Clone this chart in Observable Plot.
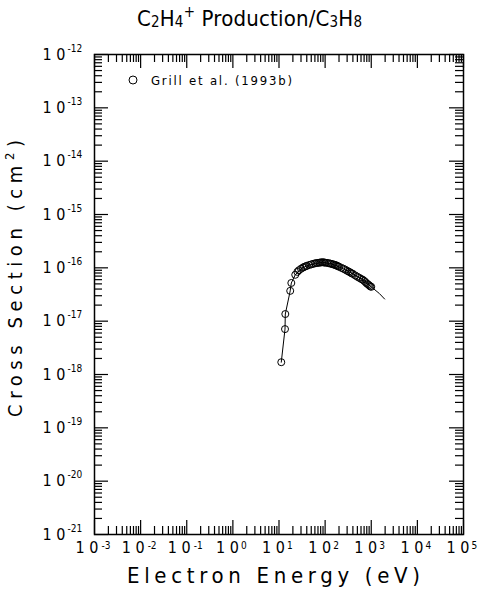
<!DOCTYPE html>
<html><head><meta charset="utf-8">
<script src="https://cdn.jsdelivr.net/npm/d3@7"></script>
<script src="https://cdn.jsdelivr.net/npm/@observablehq/plot@0.6"></script>
<style>
body{margin:0;background:#fff;}
#chart{position:relative;width:482px;height:603px;}
#chart svg.overlay{position:absolute;left:0;top:0;}
svg text{font-family:"DejaVu Sans Condensed","DejaVu Sans",sans-serif;}
</style></head><body><div id="chart"></div>
<script>
// Grill et al. (1993b) measured points (eV, cm^2)
const energy = [11.2, 13.5, 13.7, 17.5, 18.5, 22.5, 25, 27, 30, 33, 35, 38, 40, 45, 50, 55, 60, 65, 70, 75, 80, 85, 90, 95, 100,
  110, 120, 130, 140, 150, 160, 170, 180, 190, 200, 225, 250, 275, 300, 325, 350, 375, 400, 450, 500, 550, 600, 650, 700, 750,
  800, 850, 900, 950, 1000];
const sigma = [1.7e-18, 7.1e-18, 1.36e-17, 3.7e-17, 5.2e-17, 7.4e-17, 8.4e-17, 9.0e-17, 9.6e-17, 1.01e-16, 1.04e-16, 1.07e-16,
  1.09e-16, 1.13e-16, 1.16e-16, 1.19e-16, 1.21e-16, 1.23e-16, 1.24e-16, 1.25e-16, 1.26e-16, 1.27e-16, 1.27e-16, 1.26e-16,
  1.25e-16, 1.24e-16, 1.22e-16, 1.20e-16, 1.18e-16, 1.16e-16, 1.14e-16, 1.12e-16, 1.10e-16, 1.07e-16, 1.05e-16, 1.00e-16,
  9.6e-17, 9.2e-17, 8.8e-17, 8.5e-17, 8.2e-17, 7.9e-17, 7.7e-17, 7.2e-17, 6.8e-17, 6.5e-17, 6.2e-17, 6.0e-17, 5.7e-17,
  5.4e-17, 5.1e-17, 4.9e-17, 4.7e-17, 4.5e-17, 4.4e-17];
// Recommended (fitted) curve
const fitEnergy = [11.2, 13.5, 13.7, 17.5, 18.5, 22.5, 30, 40, 60, 90, 150, 250, 400, 650, 1000, 1500, 1950];
const fitSigma = [1.7e-18, 7.1e-18, 1.36e-17, 3.7e-17, 5.2e-17, 7.4e-17, 9.6e-17, 1.09e-16, 1.21e-16, 1.27e-16, 1.16e-16,
  9.6e-17, 7.7e-17, 6.0e-17, 4.4e-17, 3.3e-17, 2.6e-17];
// Axis ticks
const xMajor = [1e-3, 1e-2, 1e-1, 1e0, 1e1, 1e2, 1e3, 1e4, 1e5];
const xExp = ["-3", "-2", "-1", "0", "1", "2", "3", "4", "5"];
const yMajor = [1e-21, 1e-20, 1e-19, 1e-18, 1e-17, 1e-16, 1e-15, 1e-14, 1e-13, 1e-12];
const yExp = ["-21", "-20", "-19", "-18", "-17", "-16", "-15", "-14", "-13", "-12"];
const minorMult = [2, 3, 4, 5, 6, 7, 8, 9];

const points = energy.map((e, i) => ({e, s: sigma[i]}));
const fit = fitEnergy.map((e, i) => ({e, s: fitSigma[i]}));
const xMinor = xMajor.slice(0, -1).flatMap(v => minorMult.map(m => v * m));
const yMinor = yMajor.slice(0, -1).flatMap(v => minorMult.map(m => v * m));
const xT = xMajor.map((v, i) => ({v, exp: xExp[i]}));
const xNeg = xT.filter(d => d.exp.startsWith("-"));
const xPos = xT.filter(d => !d.exp.startsWith("-"));
const yT = yMajor.map((v, i) => ({v, exp: yExp[i]}));

const W = 482, H = 603, mT = 54, mR = 19, mB = 69, mL = 94;
const iW = W - mL - mR, iH = H - mT - mB;
const tk = {stroke: "black", strokeWidth: 1.2};
const lbl = {fill: "black", stroke: "none"};
const scales = {
  x: {type: "log", domain: [1e-3, 1e5], axis: null},
  y: {type: "log", domain: [1e-21, 1e-12], axis: null}
};
const dims = {width: W, height: H, marginTop: mT, marginRight: mR, marginBottom: mB, marginLeft: mL};

const plot = Plot.plot({
  ...dims, ...scales,
  style: {background: "white", color: "black"},
  marks: [
    Plot.tickX(xMajor, {x: d => d, insetTop: iH - 14, ...tk}),
    Plot.tickX(xMinor, {x: d => d, insetTop: iH - 8, ...tk}),
    Plot.tickY(yMajor, {y: d => d, insetRight: iW - 14, ...tk}),
    Plot.tickY(yMinor, {y: d => d, insetRight: iW - 8, ...tk}),
    Plot.frame({stroke: "black", strokeWidth: 1.5}),
    Plot.line(fit, {x: "e", y: "s", stroke: "black", strokeWidth: 1}),
    Plot.dot(points, {x: "e", y: "s", r: 3.5, stroke: "black", strokeWidth: 1, fill: "none"}),
    Plot.text(xNeg, {x: "v", text: () => "1 0", frameAnchor: "bottom", textAnchor: "end", dx: 4, dy: 18, fontSize: 16, ...lbl}),
    Plot.text(xNeg, {x: "v", text: "exp", frameAnchor: "bottom", textAnchor: "start", dx: 7, dy: 14.5, fontSize: 10, ...lbl}),
    Plot.text(xPos, {x: "v", text: () => "1 0", frameAnchor: "bottom", textAnchor: "end", dx: 6, dy: 18, fontSize: 16, ...lbl}),
    Plot.text(xPos, {x: "v", text: "exp", frameAnchor: "bottom", textAnchor: "start", dx: 8, dy: 14.5, fontSize: 10, ...lbl}),
    Plot.text(yT, {y: "v", text: () => "1 0", frameAnchor: "left", textAnchor: "end", dx: -29, dy: 0, fontSize: 16, ...lbl}),
    Plot.text(yT, {y: "v", text: "exp", frameAnchor: "left", textAnchor: "start", dx: -27, dy: -6, fontSize: 10, ...lbl})
  ]
});
document.getElementById("chart").appendChild(plot);

// Inward ticks on the top and right edges: a transparent overlay drawn with the same Plot scales
const overlay = Plot.plot({
  ...dims, ...scales,
  style: {background: "transparent"},
  marks: [
    Plot.tickX(xMajor, {x: d => d, insetBottom: iH - 14, ...tk}),
    Plot.tickX(xMinor, {x: d => d, insetBottom: iH - 8, ...tk}),
    Plot.tickY(yMajor, {y: d => d, insetLeft: iW - 14, ...tk}),
    Plot.tickY(yMinor, {y: d => d, insetLeft: iW - 8, ...tk})
  ]
});
overlay.classList.add("overlay");
overlay.style.background = "transparent";
document.getElementById("chart").appendChild(overlay);

const svg = d3.select(plot);
const F = "'DejaVu Sans Condensed','DejaVu Sans',sans-serif";
// Title
const t = svg.append("text").attr("x", 249.5).attr("y", 26).attr("text-anchor", "middle")
  .attr("font-size", 22).attr("font-family", F).attr("fill", "black")
  .attr("textLength", 225).attr("lengthAdjust", "spacing");
const parts = [["C", 0], ["2", 1], ["H", 0], ["4", 1], ["+", 2], [" Production/C", 0], ["3", 1], ["H", 0], ["8", 1]];
let cur = 0;
for (const [s, k] of parts) {
  const target = k === 1 ? 1 : k === 2 ? -9 : 0;
  t.append("tspan").attr("dy", target - cur).attr("font-size", k === 0 ? 22 : 15).text(s);
  cur = target;
}
// X axis title
svg.append("text").attr("x", 273.5).attr("y", 583).attr("text-anchor", "middle")
  .attr("font-size", 22).attr("font-family", F).attr("fill", "black")
  .attr("textLength", 293).attr("lengthAdjust", "spacing").text("Electron Energy (eV)");
// Y axis title
const yl = svg.append("text").attr("transform", "translate(22,278.5) rotate(-90)").attr("text-anchor", "middle")
  .attr("font-size", 20).attr("font-family", F).attr("fill", "black")
  .attr("textLength", 277).attr("lengthAdjust", "spacing");
yl.append("tspan").text("Cross Section (cm");
yl.append("tspan").attr("dy", -8).attr("font-size", 13).text("2");
yl.append("tspan").attr("dy", 8).text(")");
// Legend
svg.append("circle").attr("cx", 133).attr("cy", 80).attr("r", 4).attr("fill", "none").attr("stroke", "black").attr("stroke-width", 1);
svg.append("text").attr("x", 151).attr("y", 85).attr("text-anchor", "start").attr("font-size", 13).attr("font-family", F).attr("fill", "black")
  .attr("textLength", 141).attr("lengthAdjust", "spacing").text("Grill et al. (1993b)");
</script></body></html>
